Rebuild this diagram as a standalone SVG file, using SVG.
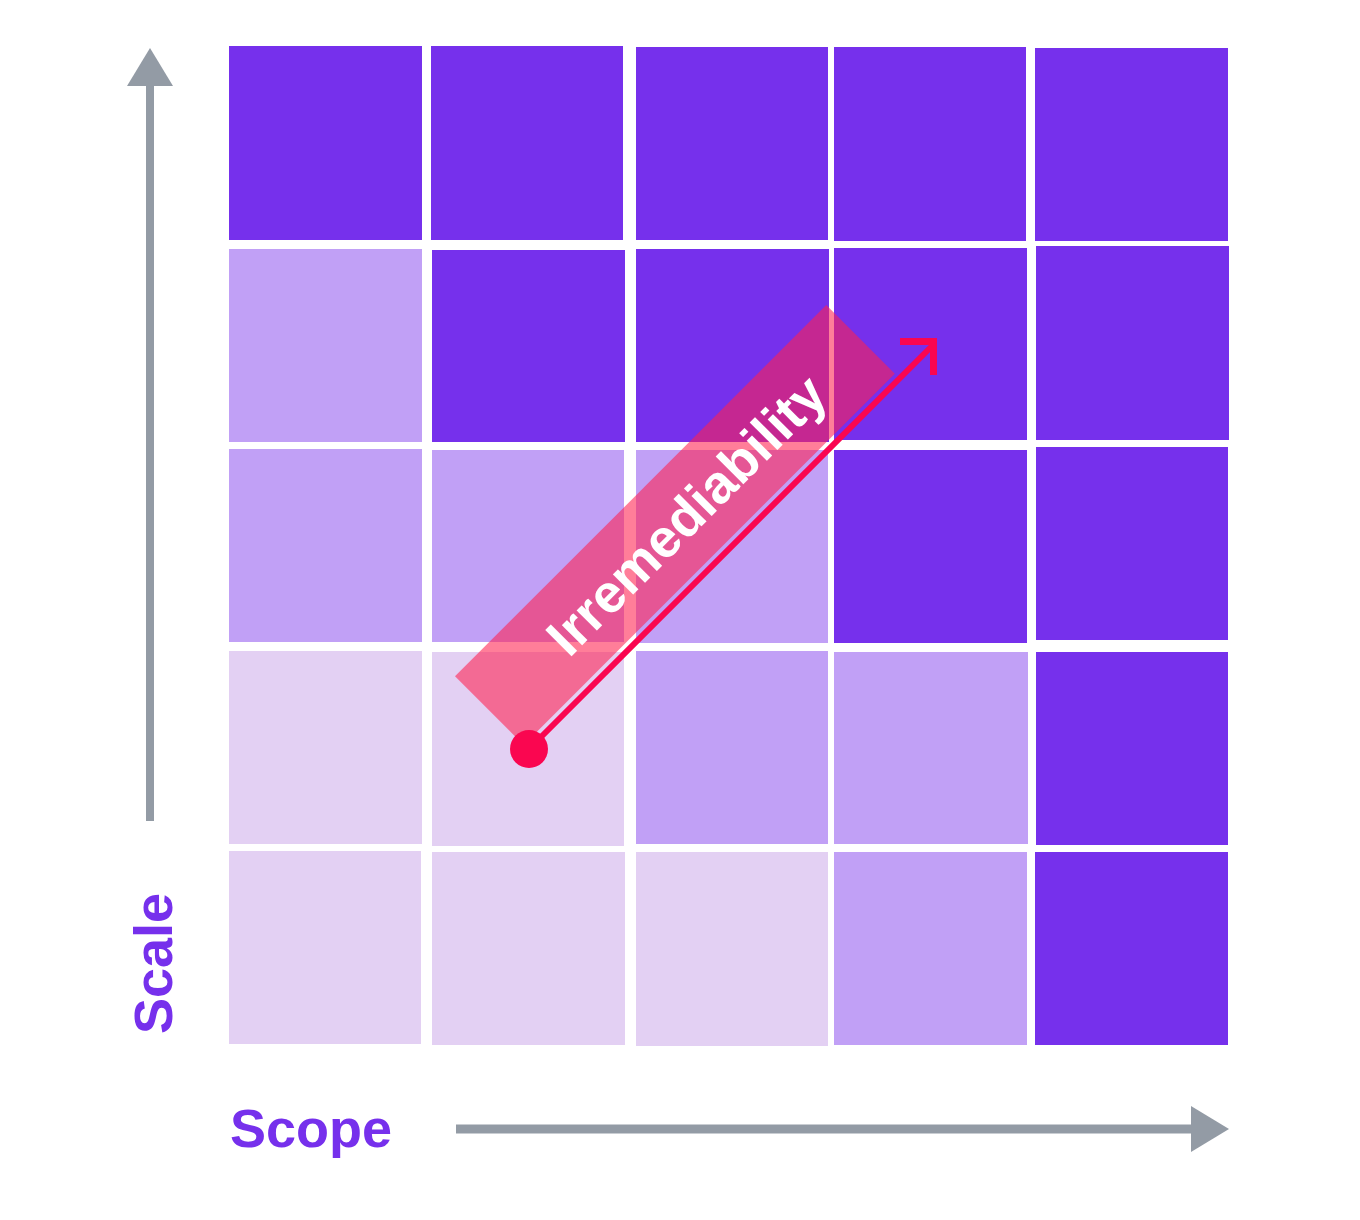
<svg xmlns="http://www.w3.org/2000/svg" width="1360" height="1220" viewBox="0 0 1360 1220">
<style>
.d{fill:#7630EC}.m{fill:#C1A0F6}.l{fill:#E3D0F3}
.ax{fill:#939BA5}
.lbl{font-family:"Liberation Sans",Arial,sans-serif;font-weight:bold;font-size:54px;fill:#7630EC}
.irr{font-family:"Liberation Sans",Arial,sans-serif;font-weight:bold;font-size:54px;fill:#FFFFFF}
</style>
<rect width="1360" height="1220" fill="#FFFFFF"/>
<g id="grid">
<rect class="d" x="229" y="46" width="193" height="194"/>
<rect class="d" x="431" y="46" width="192" height="194"/>
<rect class="d" x="636" y="47" width="192" height="193"/>
<rect class="d" x="834" y="47" width="192" height="194"/>
<rect class="d" x="1035" y="48" width="193" height="193"/>
<rect class="m" x="229" y="249" width="193" height="193"/>
<rect class="d" x="432" y="250" width="193" height="192"/>
<rect class="d" x="636" y="249" width="193" height="193"/>
<rect class="d" x="834" y="248" width="193" height="192"/>
<rect class="d" x="1036" y="246" width="193" height="194"/>
<rect class="m" x="229" y="449" width="193" height="193"/>
<rect class="m" x="432" y="450" width="192" height="192"/>
<rect class="m" x="636" y="450" width="192" height="193"/>
<rect class="d" x="834" y="450" width="193" height="193"/>
<rect class="d" x="1036" y="447" width="192" height="193"/>
<rect class="l" x="229" y="651" width="193" height="193"/>
<rect class="l" x="432" y="652" width="192" height="194"/>
<rect class="m" x="636" y="651" width="192" height="193"/>
<rect class="m" x="834" y="652" width="194" height="192"/>
<rect class="d" x="1036" y="652" width="192" height="193"/>
<rect class="l" x="229" y="851" width="192" height="193"/>
<rect class="l" x="432" y="852" width="193" height="193"/>
<rect class="l" x="636" y="852" width="192" height="194"/>
<rect class="m" x="834" y="852" width="193" height="193"/>
<rect class="d" x="1035" y="852" width="193" height="193"/>
</g>
<g id="axes">
<rect class="ax" x="146" y="80" width="8" height="741"/>
<polygon class="ax" points="127,86 173,86 150,48"/>
<rect class="ax" x="456" y="1124.5" width="740" height="9"/>
<polygon class="ax" points="1191,1106 1191,1152 1229,1129"/>
</g>
<g id="labels">
<text class="lbl" x="230" y="1147">Scope</text>
<text class="lbl" transform="translate(172,1034) rotate(-90)">Scale</text>
</g>
<g id="irremediability">
<rect x="-156.5" y="800" width="525" height="97" fill="#FF2050" fill-opacity="0.58" transform="rotate(-45)"/>
<text class="irr" text-anchor="middle" transform="translate(699.4,528.2) rotate(-45)">Irremediability</text>
</g>
<g id="connectors">
<line x1="529" y1="749" x2="932" y2="346" stroke="#FA0650" stroke-width="6"/>
<polyline points="900,341.5 933.5,341.5 933.5,375" fill="none" stroke="#FA0650" stroke-width="7"/>
<circle cx="529" cy="749" r="19" fill="#FA0650"/>
</g>
</svg>
